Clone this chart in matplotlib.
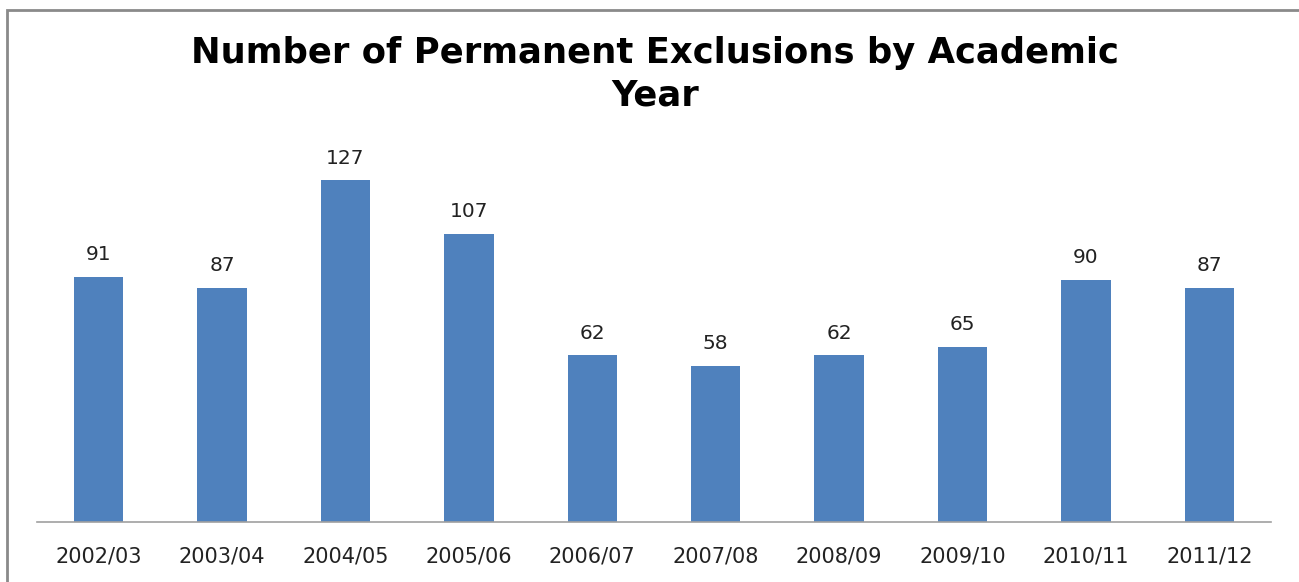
import matplotlib
matplotlib.use("Agg")
import matplotlib.pyplot as plt
from matplotlib.patches import Rectangle

years = ["2002/03", "2003/04", "2004/05", "2005/06", "2006/07",
         "2007/08", "2008/09", "2009/10", "2010/11", "2011/12"]
exclusions = [91, 87, 127, 107, 62, 58, 62, 65, 90, 87]

W, H = 1299, 582
fig = plt.figure(figsize=(W / 100, H / 100), dpi=100)

# chart-area border (runs off the right and bottom edges)
fig.patches.append(Rectangle((7 / W, -0.1), 1.2, 1 - 10 / H + 0.1,
                             transform=fig.transFigure, fill=False,
                             edgecolor="#8a8a8a", linewidth=2))

ax = fig.add_axes([37 / W, 1 - 522 / H, (1271 - 37) / W, (522 - 145) / H])
x = range(len(years))
bars = ax.bar(x, exclusions, width=0.4, color="#4F81BD")
ax.set_xlim(-0.5, len(years) - 0.5)
ax.set_ylim(0, 140)

for b, v in zip(bars, exclusions):
    ax.annotate(str(v), (b.get_x() + b.get_width() / 2, v),
                xytext=(0, 9), textcoords="offset points",
                ha="center", va="bottom", fontsize=14.5,
                family="DejaVu Sans", color="#222222")

ax.set_xticks(list(x))
ax.set_xticklabels(years, fontsize=15, family="DejaVu Sans", color="#222222")
ax.tick_params(axis="x", length=0, pad=18)
ax.set_yticks([])
for s in ["left", "right", "top"]:
    ax.spines[s].set_visible(False)
ax.spines["bottom"].set_color("#a0a0a0")
ax.spines["bottom"].set_linewidth(1.2)

fig.text((37 + 1271) / 2 / W + 0.001, 1 - 74 / H,
         "Number of Permanent Exclusions by Academic\nYear",
         ha="center", va="center", fontsize=25.5, fontweight="bold",
         family="DejaVu Sans", linespacing=1.3, color="black")

fig.savefig("out.png", dpi=100)
